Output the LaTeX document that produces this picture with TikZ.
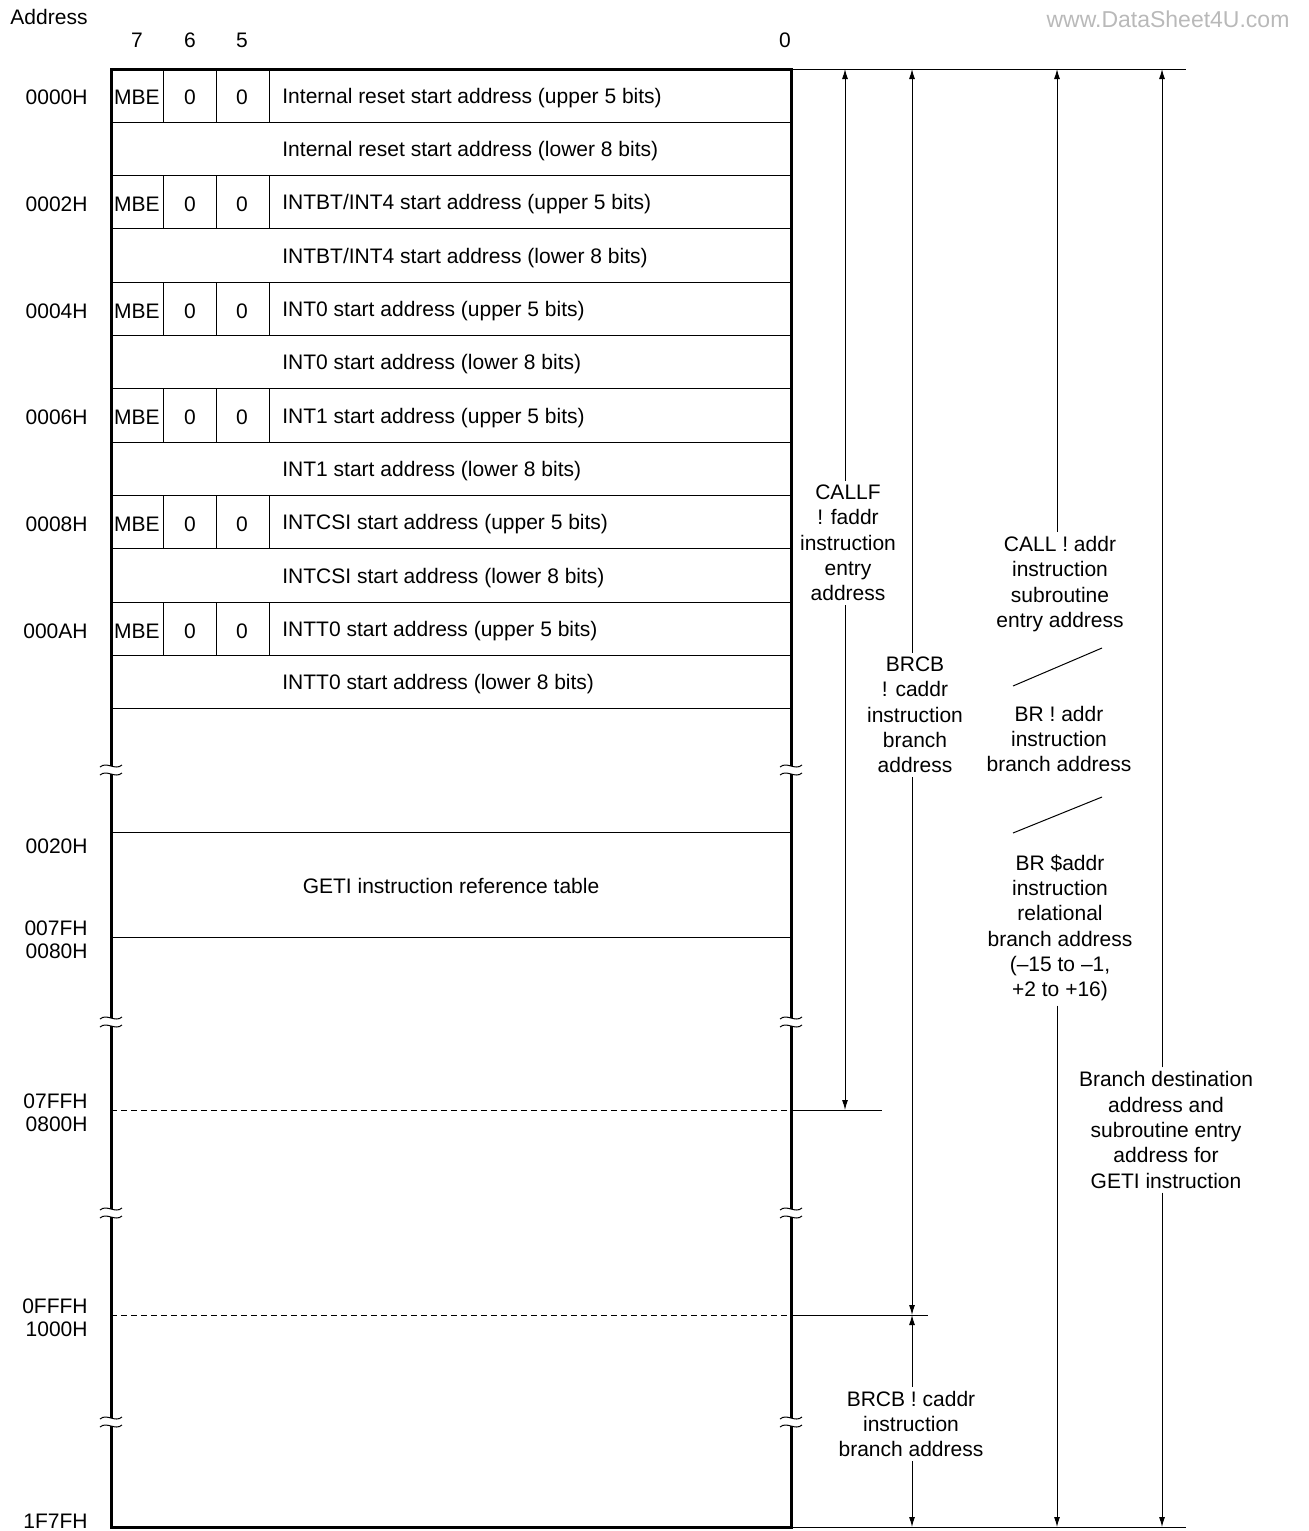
\documentclass[tikz,border=0pt]{standalone}
\usepackage{fontspec}
\setmainfont{Liberation Sans}
\usetikzlibrary{arrows.meta}

% Break mark on a vertical edge
\newcommand{\cutmark}[2]{%
  \fill[white] (#1-3,#2-4) rectangle (#1+3,#2+4);
  \draw[thinline] (#1-11,#2-3) .. controls (#1-4,#2-9) and (#1+4,#2+1) .. (#1+11,#2-5);
  \draw[thinline] (#1-11,#2+5) .. controls (#1-4,#2-1) and (#1+4,#2+9) .. (#1+11,#2+3);
}

\begin{document}
\begin{tikzpicture}[x=0.5pt,y=-0.5pt,
  font=\fontsize{10.5}{12.65}\selectfont,
  thinline/.style={line width=0.5pt},
  frame/.style={line width=1.5pt},
  arr/.style={line width=0.5pt,-{Latex[length=5pt,width=3pt]}},
  lbl/.style={align=center,inner sep=2pt},
  entry/.style={anchor=west,inner sep=0pt},
  addr/.style={anchor=east,inner sep=0pt}]
  \useasboundingbox (0,0) rectangle (1309,1531);
  % Row height
  \def\rh{53.33}

  % Headings
  \node (head) at (49,17) {Address};
  \node (bit7) at (137,40) {7};
  \node (bit6) at (190,40) {6};
  \node (bit5) at (242,40) {5};
  \node (bit0) at (785,40) {0};
  \node[text=gray!55,font=\fontsize{11.5}{13}\selectfont] (wm) at (1168,19) {www.DataSheet4U.com};

  % Vector table rows
  \foreach \k in {1,...,12}{
    \draw[thinline] (111,{69+\k*\rh}) -- (791,{69+\k*\rh});
  }
  \foreach \name/\adr [count=\i from 0] in {{Internal reset}/0000H,{INTBT/INT4}/0002H,INT0/0004H,
      INT1/0006H,INTCSI/0008H,INTT0/000AH}{
    \pgfmathsetmacro{\yu}{71+(2*\i+0.5)*\rh}
    \pgfmathsetmacro{\yl}{71+(2*\i+1.5)*\rh}
    \foreach \x in {163,216,269}{
      \draw[thinline] (\x,{69+2*\i*\rh}) -- (\x,{69+(2*\i+1)*\rh});
    }
    \node[addr] (adr\i) at (88,\yu) {\adr};
    \node (mbe\i) at (137,\yu) {MBE};
    \node (zb\i) at (190,\yu) {0};
    \node (zc\i) at (242,\yu) {0};
    \node[entry] (up\i) at (282,\yu) {\name\ start address (upper 5 bits)};
    \node[entry] (lo\i) at (282,\yl) {\name\ start address (lower 8 bits)};
  }

  % GETI table
  \draw[thinline] (111,832) -- (791,832);
  \draw[thinline] (111,937) -- (791,937);
  \node (geti tab) at (451,886) {GETI instruction reference table};

  % Boundaries of the areas
  \draw[thinline,dash pattern=on 3pt off 2pt] (111,1110) -- (791,1110);
  \draw[thinline] (791,1110) -- (882,1110);
  \draw[thinline,dash pattern=on 3pt off 2pt] (111,1315) -- (791,1315);
  \draw[thinline] (791,1315) -- (928,1315);
  \draw[thinline] (791,69) -- (1186,69);
  \draw[thinline] (791,1527) -- (1186,1527);

  % Lower addresses
  \node[addr] (a20) at (88,846) {0020H};
  \node[addr] (a7f) at (88,928) {007FH};
  \node[addr] (a80) at (88,951) {0080H};
  \node[addr] (a7ff) at (88,1101) {07FFH};
  \node[addr] (a800) at (88,1124) {0800H};
  \node[addr] (afff) at (88,1306) {0FFFH};
  \node[addr] (a1000) at (88,1329) {1000H};
  \node[addr] (aend) at (88,1521) {1F7FH};

  % Memory frame
  \draw[frame] (111,69) rectangle (791,1527);
  \foreach \y in {770,1022,1213,1422}{
    \cutmark{111}{\y}
    \cutmark{791}{\y}
  }

  % Ranges of the instructions
  \coordinate (callf top) at (845,69);
  \coordinate (callf bot) at (845,1110);
  \coordinate (brcb top) at (912,69);
  \coordinate (brcb mid) at (912,1315);
  \coordinate (brcb bot) at (912,1527);
  \coordinate (call top) at (1057,69);
  \coordinate (call bot) at (1057,1527);
  \coordinate (geti top) at (1162,69);
  \coordinate (geti bot) at (1162,1527);

  \node[lbl] (callf) at (848,543) {CALLF\\! faddr\\instruction\\entry\\address};
  \node[lbl] (brcb) at (915,715) {BRCB\\! caddr\\instruction\\branch\\address};
  \node[lbl] (brcb low) at (911,1424) {BRCB ! caddr\\instruction\\branch address};
  \node[lbl] (call) at (1060,584) {CALL ! addr\\instruction\\subroutine\\entry address};
  \node[lbl] (br abs) at (1059,739) {BR ! addr\\instruction\\branch address};
  \node[lbl] (br rel) at (1060,928) {BR \$addr\\instruction\\relational\\branch address\\(--15 to --1,\\+2 to +16)};
  \node[lbl] (geti) at (1166,1130) {Branch destination\\address and\\subroutine entry\\address for\\GETI instruction};

  \draw[arr] (callf top |- callf.north) -- (callf top);
  \draw[arr] (callf bot |- callf.south) -- (callf bot);
  \draw[arr] (brcb top |- brcb.north) -- (brcb top);
  \draw[arr] (brcb mid |- brcb.south) -- (brcb mid);
  \draw[arr] (brcb mid |- brcb low.north) -- (brcb mid);
  \draw[arr] (brcb bot |- brcb low.south) -- (brcb bot);
  \draw[arr] (call top |- call.north) -- (call top);
  \draw[arr] (call bot |- br rel.south) -- (call bot);
  \draw[arr] (geti top |- geti.north) -- (geti top);
  \draw[arr] (geti bot |- geti.south) -- (geti bot);

  % Slashes between the labels
  \draw[thinline] (1013,686) -- (1102,648);
  \draw[thinline] (1013,833) -- (1102,797);
\end{tikzpicture}
\end{document}
